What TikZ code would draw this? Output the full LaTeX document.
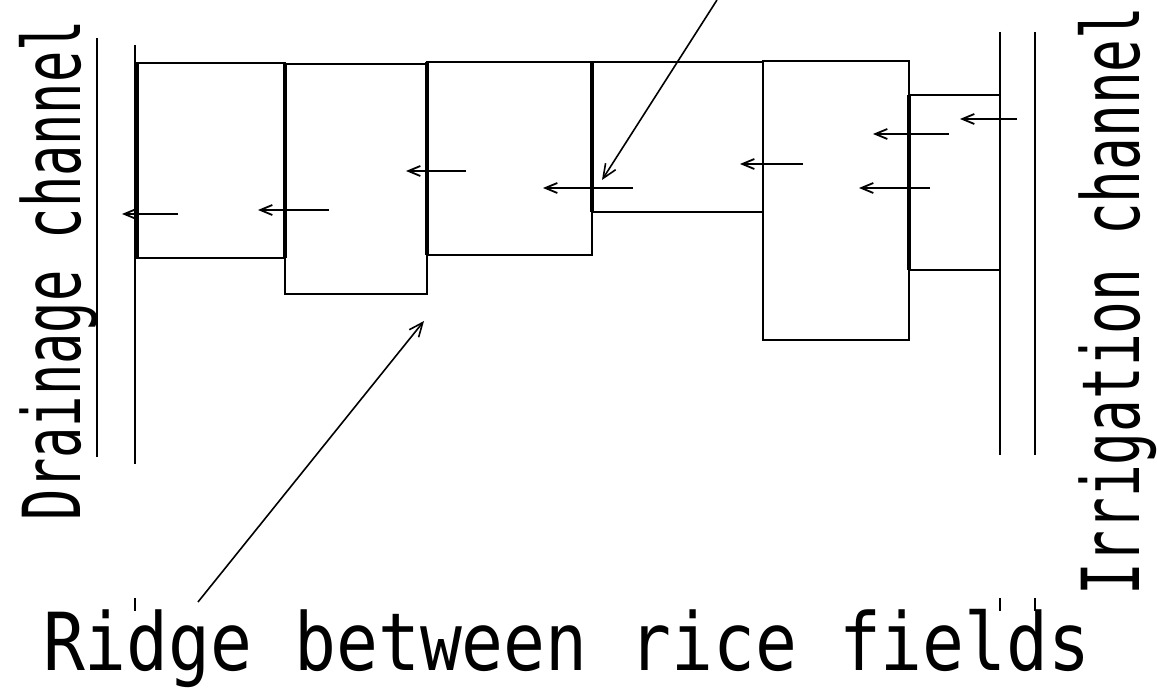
\documentclass[tikz,border=0pt]{standalone}
\usepackage{fontspec}
\newfontfamily\gothic{DejaVu Sans Mono}
\usetikzlibrary{arrows.meta}

\begin{document}
\begin{tikzpicture}[x=0.5pt, y=-0.5pt, line width=1pt,
    flow/.style={-{Straight Barb[length=6pt,width=5pt]}, line width=0.9pt},
    leader/.style={-{Straight Barb[length=7pt,width=6pt]}, line width=0.8pt},
    levee/.style={line width=2.2pt},
    sidelabel/.style={inner sep=0pt, rotate=90, anchor=base west,
        font=\gothic\fontsize{40}{40}\selectfont},
    ridgelabel/.style={inner sep=0pt, anchor=base west,
        font=\gothic\fontsize{40}{40}\selectfont}]
    \useasboundingbox (0,0) rectangle (1157,689);
    % 1. Channels
    \draw (97,38) -- (97,457);
    \draw (135,45) -- (135,464);
    \draw (1000,32) -- (1000,455);
    \draw (1035,32) -- (1035,455);
    \foreach \x in {135,1000,1035} {
        \draw (\x,598) -- (\x,611);
    }
    
    % 2. Rice fields
    \draw (137,63) rectangle (285,258);
    \draw (285,64) rectangle (427,294);
    \draw (427,62) rectangle (592,255);
    \draw (592,62) rectangle (763,212);
    \draw (763,61) rectangle (909,340);
    \draw (1000,95) -- (909,95) -- (909,270) -- (1000,270);
    
    % 3. Ridges with outlets
    \foreach \x/\ya/\yb in {137/63/258, 285/63/258, 427/62/255, 592/62/212, 909/95/270} {
        \draw[levee] (\x,\ya) -- (\x,\yb);
    }
    
    % 4. Flow of water
    \foreach \xa/\xb/\y in {178/122/214, 329/258/210, 466/406/171, 633/543/188,
                            803/740/164, 949/873/134, 930/859/188, 1017/960/119} {
        \draw[flow] (\xa,\y) -- (\xb,\y);
    }
    
    % 5. Labels
    \node[sidelabel] (drain) at (80,522) {\scalebox{0.65}[1]{Drainage channel}};
    \node[sidelabel] (irrig) at (1139,597) {\scalebox{0.68}[1]{Irrigation channel}};
    \node[ridgelabel] (ridge) at (42,670) {\scalebox{0.87}[1]{Ridge between rice fields}};
    
    % 6. Leaders
    \coordinate (ridgetail) at (198,602);
    \coordinate (ridgehead) at (424,321);
    \draw[leader] (ridgetail) -- (ridgehead);
    \coordinate (toptail) at (717,0);
    \coordinate (tophead) at (602,180);
    \draw[leader] (toptail) -- (tophead);
\end{tikzpicture}
\end{document}
